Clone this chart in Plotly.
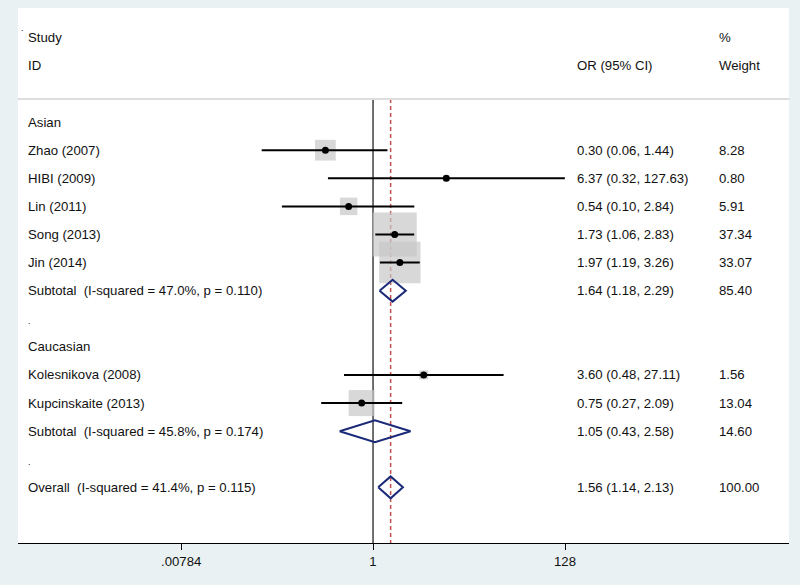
import numpy as np
import plotly.graph_objects as go

# ---------------- data ----------------
row_labels = [
    "Asian",
    "Zhao (2007)",
    "HIBI (2009)",
    "Lin (2011)",
    "Song (2013)",
    "Jin (2014)",
    "Subtotal  (I-squared = 47.0%, p = 0.110)",
    ".",
    "Caucasian",
    "Kolesnikova (2008)",
    "Kupcinskaite (2013)",
    "Subtotal  (I-squared = 45.8%, p = 0.174)",
    ".",
    "Overall  (I-squared = 41.4%, p = 0.115)",
]

study_names = ["Zhao (2007)", "HIBI (2009)", "Lin (2011)", "Song (2013)",
               "Jin (2014)", "Kolesnikova (2008)", "Kupcinskaite (2013)"]
study_or = [0.30, 6.37, 0.54, 1.73, 1.97, 3.60, 0.75]
study_lo = [0.06, 0.32, 0.10, 1.06, 1.19, 0.48, 0.27]
study_hi = [1.44, 127.63, 2.84, 2.83, 3.26, 27.11, 2.09]
study_w = [8.28, 0.80, 5.91, 37.34, 33.07, 1.56, 13.04]

pooled_names = ["Subtotal  (I-squared = 47.0%, p = 0.110)",
                "Subtotal  (I-squared = 45.8%, p = 0.174)",
                "Overall  (I-squared = 41.4%, p = 0.115)"]
pooled_or = [1.64, 1.05, 1.56]
pooled_lo = [1.18, 0.43, 1.14]
pooled_hi = [2.29, 2.58, 2.13]
pooled_w = [85.40, 14.60, 100.00]

tick_vals = [0.00784, 1, 128]
tick_text = [".00784", "1", "128"]

overall_or = pooled_or[2]

# ---------------- layout constants ----------------
W, H = 800, 585
ML, MR, MT, MB = 18, 11, 8, 42
Y_TOP, Y_BOT = -4.06, 14.98
SEP_Y = -0.82
FONT = "Liberation Sans, Arial, Helvetica, sans-serif"
FS = 13.2
NAVY = "#1b2a78"

def row_of(name):
    return row_labels.index(name)

fig = go.Figure()

# reference lines
fig.add_trace(go.Scatter(x=[1, 1], y=[SEP_Y, Y_BOT], mode="lines",
                         line=dict(color="#222222", width=1.3),
                         hoverinfo="skip", showlegend=False))
fig.add_trace(go.Scatter(x=[overall_or, overall_or], y=[SEP_Y, Y_BOT], mode="lines",
                         line=dict(color="#c0504d", width=1.5, dash="4px,3px"),
                         hoverinfo="skip", showlegend=False))

ys = [row_of(n) for n in study_names]

# weight boxes
fig.add_trace(go.Scatter(
    x=study_or, y=ys, mode="markers",
    marker=dict(symbol="square", size=[7.2 * np.sqrt(w) for w in study_w],
                color="#c8c8c8", line=dict(width=0)),
    hoverinfo="skip", showlegend=False))

# CI lines
cx, cy = [], []
for lo, hi, y in zip(study_lo, study_hi, ys):
    cx += [lo, hi, None]
    cy += [y, y, None]
fig.add_trace(go.Scatter(x=cx, y=cy, mode="lines",
                         line=dict(color="black", width=2),
                         hoverinfo="skip", showlegend=False))

# point estimates
fig.add_trace(go.Scatter(x=study_or, y=ys, mode="markers",
                         marker=dict(symbol="circle", size=7, color="black"),
                         hoverinfo="skip", showlegend=False))

# diamonds
HD = 0.39
for name, o, lo, hi in zip(pooled_names, pooled_or, pooled_lo, pooled_hi):
    y = row_of(name)
    fig.add_trace(go.Scatter(x=[lo, o, hi, o, lo], y=[y, y - HD, y, y + HD, y],
                             mode="lines", line=dict(color=NAVY, width=2),
                             hoverinfo="skip", showlegend=False))

# ---------------- text ----------------
pw = W - ML - MR
def px_to_paper(px):
    return (px - ML) / pw

ann = []
def add_text(txt, px, y, size=FS):
    ann.append(dict(text=txt, x=px_to_paper(px), xref="paper", y=y, yref="y",
                    xanchor="left", yanchor="middle", showarrow=False,
                    font=dict(family=FONT, size=size, color="#111111")))

add_text(".", 19, -3.35, 9)
add_text("Study", 26, -3)
add_text("ID", 26, -2)
add_text("OR (95% CI)", 575, -2)
add_text("%", 717, -3)
add_text("Weight", 717, -2)

for i, lab in enumerate(row_labels):
    if lab == ".":
        add_text(".", 26, i + 0.08, 9)
    else:
        add_text(lab, 26, i)

for name, o, lo, hi, w in zip(study_names, study_or, study_lo, study_hi, study_w):
    y = row_of(name)
    add_text(f"{o:.2f} ({lo:.2f}, {hi:.2f})", 575, y)
    add_text(f"{w:.2f}", 717, y)
for name, o, lo, hi, w in zip(pooled_names, pooled_or, pooled_lo, pooled_hi, pooled_w):
    y = row_of(name)
    add_text(f"{o:.2f} ({lo:.2f}, {hi:.2f})", 575, y)
    add_text(f"{w:.2f}", 717, y)

fig.update_layout(
    width=W, height=H,
    margin=dict(l=ML, r=MR, t=MT, b=MB),
    paper_bgcolor="#eaf1f3",
    plot_bgcolor="white",
    showlegend=False,
    annotations=ann,
    shapes=[dict(type="line", xref="paper", yref="y", x0=0, x1=1, y0=SEP_Y, y1=SEP_Y,
                 line=dict(color="#dddddd", width=2))],
    xaxis=dict(type="log", range=[-3.897, 4.566], tickvals=tick_vals, ticktext=tick_text,
               ticks="outside", ticklen=6, tickwidth=1.3, tickcolor="black",
               showline=True, linecolor="black", linewidth=1.3,
               showgrid=False, zeroline=False,
               tickfont=dict(family=FONT, size=FS, color="#111111")),
    yaxis=dict(range=[Y_BOT, Y_TOP], visible=False, showgrid=False, zeroline=False),
)

fig.write_html("out.html", config={"displayModeBar": False},
               post_script="document.body.style.margin='0';document.body.style.overflow='hidden';")
